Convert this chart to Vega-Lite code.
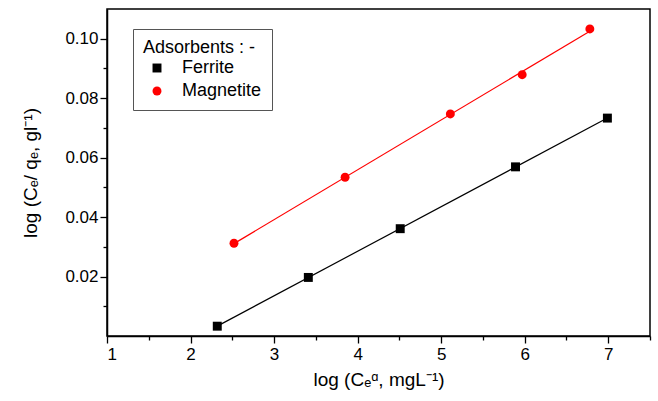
{
  "$schema": "https://vega.github.io/schema/vega-lite/v6.json",
  "width": 543,
  "height": 327,
  "autosize": "none",
  "padding": {"left": 107, "top": 9, "right": 8, "bottom": 65},
  "background": "white",
  "config": {
    "font": "Liberation Sans",
    "view": {"stroke": "black", "strokeWidth": 1.5},
    "axis": {
      "domainColor": "black", "domainWidth": 1.5,
      "tickColor": "black", "tickWidth": 1.3, "tickSize": 7,
      "labelColor": "black", "labelFontSize": 17, "labelFont": "Liberation Sans",
      "titleColor": "black", "titleFontSize": 19, "titleFontWeight": "normal", "titleFont": "Liberation Sans",
      "grid": false
    },
    "legend": {
      "orient": "none", "legendX": 26, "legendY": 20,
      "strokeColor": "#555", "fillColor": "white", "padding": 10,
      "titleFontSize": 18, "titleFontWeight": "normal", "titleColor": "black", "titleFont": "Liberation Sans",
      "labelFontSize": 18, "labelColor": "black", "labelFont": "Liberation Sans", "labelOffset": 16,
      "symbolOffset": 5,
      "symbolSize": 80, "rowPadding": 5, "titlePadding": 2, "symbolStrokeWidth": 0
    }
  },
  "datasets": {
    "pts": [
      {"series": "Ferrite", "x": 2.32, "y": 0.0033},
      {"series": "Ferrite", "x": 3.41, "y": 0.0197},
      {"series": "Ferrite", "x": 4.51, "y": 0.0361},
      {"series": "Ferrite", "x": 5.89, "y": 0.0569},
      {"series": "Ferrite", "x": 6.99, "y": 0.0733},
      {"series": "Magnetite", "x": 2.52, "y": 0.0312},
      {"series": "Magnetite", "x": 3.85, "y": 0.0534},
      {"series": "Magnetite", "x": 5.11, "y": 0.0747},
      {"series": "Magnetite", "x": 5.97, "y": 0.0879},
      {"series": "Magnetite", "x": 6.78, "y": 0.1033}
    ]
  },
  "layer": [
    {
      "data": {"name": "pts"},
      "transform": [{"regression": "y", "on": "x", "groupby": ["series"]}],
      "mark": {"type": "line", "strokeWidth": 1.2},
      "encoding": {
        "x": {"field": "x", "type": "quantitative",
              "scale": {"domain": [1, 7.5], "nice": false, "zero": false},
              "axis": {"orient": "bottom", "values": [1.5, 2.5, 3.5, 4.5, 5.5, 6.5, 7.5], "labels": false, "tickSize": 4, "domain": false, "title": null}},
        "y": {"field": "y", "type": "quantitative",
              "scale": {"domain": [0, 0.11], "nice": false, "zero": false},
              "axis": {"orient": "left", "values": [0.01, 0.03, 0.05, 0.07, 0.09], "labels": false, "tickSize": 4, "domain": false, "title": null}},
        "color": {"field": "series", "type": "nominal", "title": "Adsorbents : -\u00a0\u00a0\u00a0\u00a0",
                  "scale": {"domain": ["Ferrite", "Magnetite"], "range": ["black", "#ff0000"]}}
      }
    },
    {
      "data": {"name": "pts"},
      "mark": {"type": "point", "filled": true, "size": 80, "opacity": 1},
      "encoding": {
        "x": {"field": "x", "type": "quantitative",
              "axis": {"orient": "bottom", "values": [1, 2, 3, 4, 5, 6, 7], "format": "d", "labelPadding": 3, "titlePadding": 8,
                       "title": "log (Cₑᵅ, mgL⁻¹)"}},
        "y": {"field": "y", "type": "quantitative",
              "axis": {"orient": "left", "values": [0.02, 0.04, 0.06, 0.08, 0.1], "format": ".2f", "labelPadding": 2, "titlePadding": 24,
                       "title": "log (Cₑ/ qₑ, gl⁻¹)"}},
        "color": {"field": "series", "type": "nominal", "title": "Adsorbents : -\u00a0\u00a0\u00a0\u00a0"},
        "shape": {"field": "series", "type": "nominal", "title": "Adsorbents : -\u00a0\u00a0\u00a0\u00a0",
                  "scale": {"domain": ["Ferrite", "Magnetite"], "range": ["square", "circle"]}}
      }
    }
  ],
  "resolve": {"axis": {"x": "independent", "y": "independent"}}
}
